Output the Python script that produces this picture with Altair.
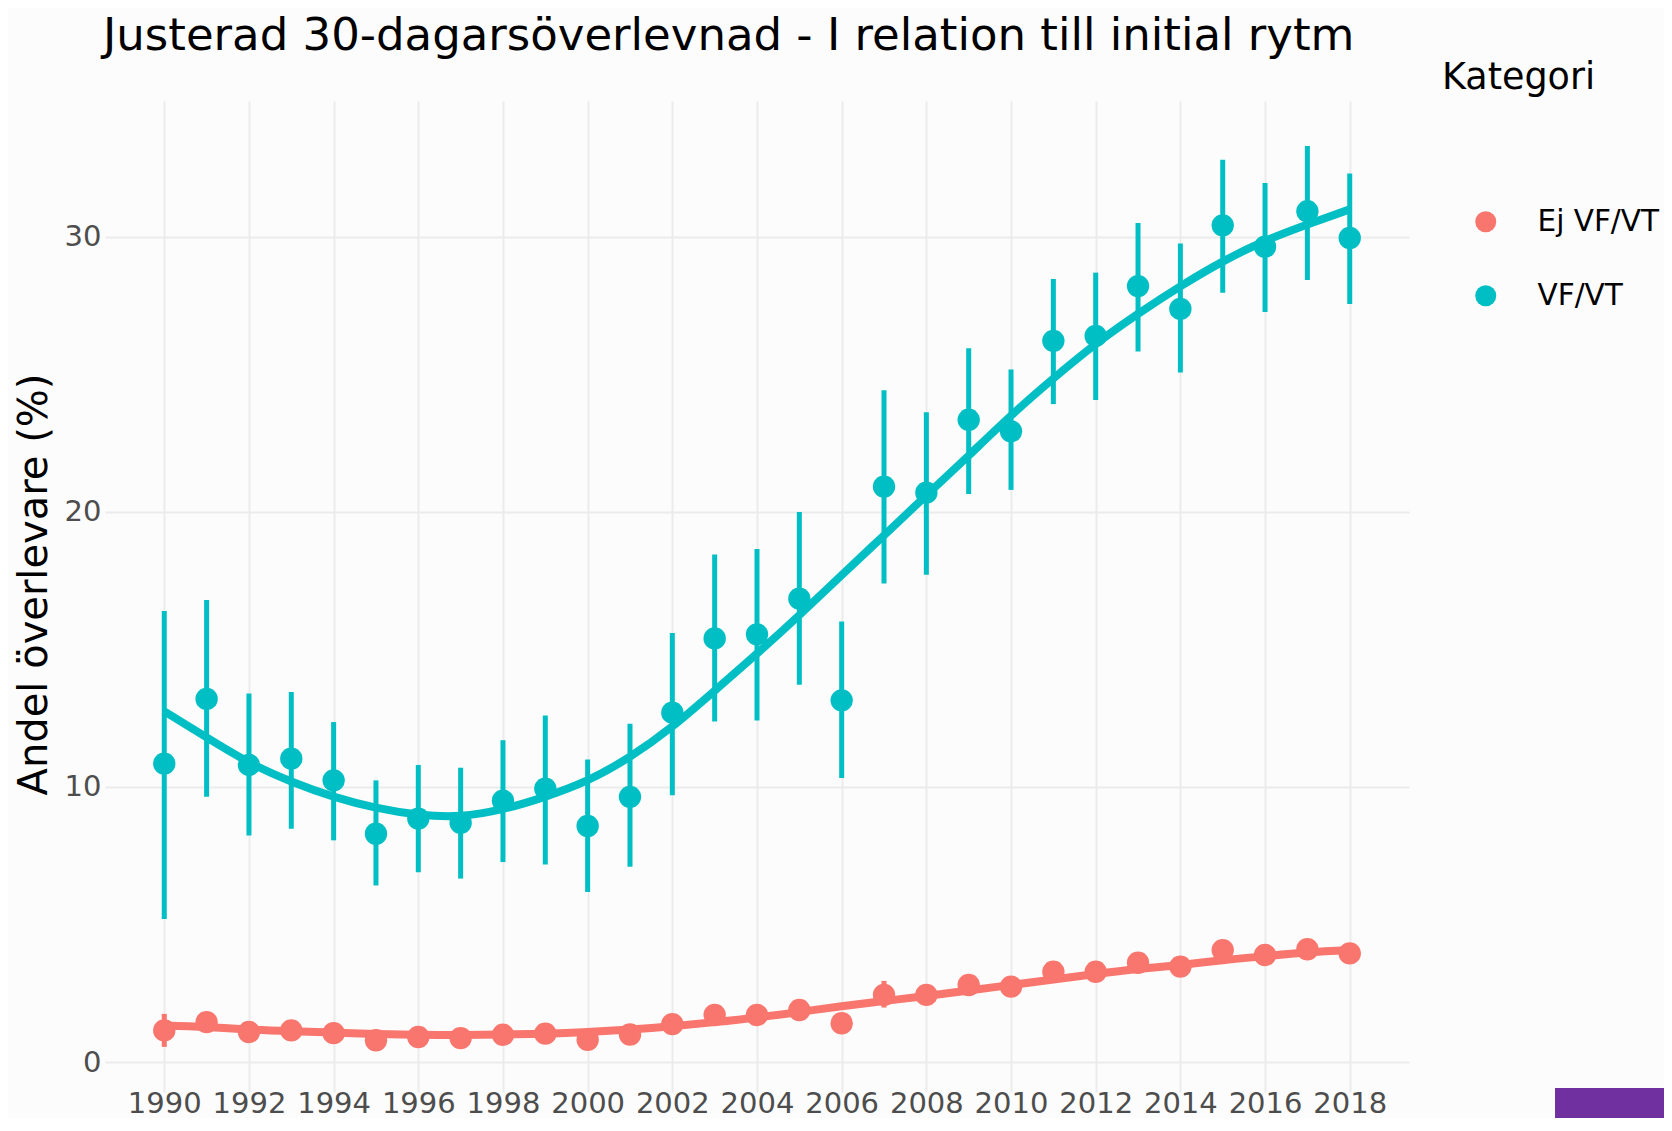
import altair as alt
import pandas as pd

years = list(range(1990, 2019))
categories = ["Ej VF/VT", "VF/VT"]
colors = ["#F8766D", "#00BFC4"]

# VF/VT: estimate, CI low, CI high, smoothed fit
vf_est = [10.85, 13.2, 10.8, 11.03, 10.24, 8.3, 8.85, 8.7, 9.5, 9.94, 8.58, 9.64, 12.7,
          15.4, 15.55, 16.85, 13.15, 20.92, 20.7, 23.35, 22.93, 26.22, 26.4, 28.21,
          27.38, 30.42, 29.64, 30.93, 29.96]
vf_lo = [5.2, 9.64, 8.24, 8.48, 8.06, 6.42, 6.9, 6.67, 7.27, 7.18, 6.18, 7.1, 9.7,
         12.38, 12.42, 13.72, 10.33, 17.4, 17.72, 20.65, 20.8, 23.92, 24.07, 25.83,
         25.07, 27.97, 27.27, 28.43, 27.56]
vf_hi = [16.4, 16.8, 13.4, 13.45, 12.36, 10.24, 10.8, 10.7, 11.7, 12.6, 11.0, 12.3, 15.6,
         18.45, 18.65, 20.0, 16.02, 24.42, 23.62, 25.95, 25.18, 28.47, 28.7, 30.5,
         29.76, 32.8, 31.96, 33.3, 32.3]
vf_fit = [12.75, 11.8, 10.9, 10.2, 9.65, 9.25, 9.0, 8.95, 9.2, 9.65, 10.25, 11.1, 12.2,
          13.5, 14.85, 16.25, 17.7, 19.15, 20.6, 22.05, 23.5, 24.85, 26.1, 27.2,
          28.2, 29.1, 29.85, 30.45, 31.0]

# Ej VF/VT
ej_est = [1.15, 1.45, 1.09, 1.15, 1.05, 0.79, 0.91, 0.87, 0.99, 1.03, 0.81, 1.0, 1.38,
          1.71, 1.71, 1.89, 1.41, 2.44, 2.44, 2.8, 2.74, 3.28, 3.28, 3.61,
          3.47, 4.07, 3.89, 4.1, 3.95]
ej_lo = [0.55, 1.2, 0.85, 0.9, 0.8, 0.55, 0.67, 0.63, 0.75, 0.78, 0.57, 0.76, 1.12,
         1.45, 1.45, 1.62, 1.15, 1.98, 2.16, 2.52, 2.46, 3.0, 3.0, 3.32,
         3.2, 3.78, 3.6, 3.82, 3.67]
ej_hi = [1.75, 1.7, 1.33, 1.4, 1.3, 1.03, 1.15, 1.11, 1.23, 1.28, 1.05, 1.24, 1.64,
         1.97, 1.97, 2.16, 1.67, 2.95, 2.72, 3.08, 3.02, 3.56, 3.56, 3.9,
         3.74, 4.35, 4.18, 4.38, 4.23]
ej_fit = [1.33, 1.27, 1.18, 1.12, 1.07, 1.02, 0.99, 0.98, 1.0, 1.03, 1.09, 1.18, 1.3,
          1.45, 1.62, 1.82, 2.03, 2.22, 2.4, 2.6, 2.8, 3.0, 3.2, 3.38,
          3.53, 3.7, 3.85, 3.98, 4.07]

x_ticks = list(range(1990, 2019, 2))
y_ticks = [0, 10, 20, 30]

FONT = "DejaVu Sans"

pts = pd.DataFrame({
    "year": years * 2,
    "Kategori": [categories[0]] * len(years) + [categories[1]] * len(years),
    "est": ej_est + vf_est,
    "lo": ej_lo + vf_lo,
    "hi": ej_hi + vf_hi,
})
fit = pd.DataFrame({
    "year": years * 2,
    "Kategori": [categories[0]] * len(years) + [categories[1]] * len(years),
    "fit": ej_fit + vf_fit,
})

x_enc = alt.X("year:Q",
              scale=alt.Scale(domain=[1988.6, 2019.4], nice=False, zero=False),
              axis=alt.Axis(values=x_ticks, format="d", title=None, labelFontSize=29,
                            labelFont=FONT, labelColor="#4D4D4D", labelPadding=-3,
                            ticks=False, tickSize=0, domain=False, labelOverlap=False,
                            labelFlush=False, gridColor="#EBEBEB", gridWidth=2))
y_scale = alt.Scale(domain=[-1.09, 34.94], nice=False, zero=False)
y_axis = alt.Axis(values=y_ticks, title="Andel överlevare (%)", titleFontSize=40,
                  titleFont=FONT, titleFontWeight="normal", titleColor="black",
                  titleX=-71, titleY=483, titleBaseline="middle", titleAngle=270,
                  labelFontSize=29, labelFont=FONT, labelColor="#4D4D4D", labelPadding=4,
                  ticks=False, tickSize=0, domain=False, gridColor="#EBEBEB", gridWidth=2)
color_scale = alt.Scale(domain=categories, range=colors)
legend = alt.Legend(title="Kategori", orient="none", legendX=1337, legendY=-41,
                    titleFontSize=36.5, titleFont=FONT, titleFontWeight="normal",
                    titleColor="black", labelFontSize=29.5, labelFont=FONT,
                    labelColor="black", symbolType="circle", symbolSize=440,
                    symbolStrokeWidth=0, symbolOffset=29, labelOffset=37,
                    rowPadding=43, titlePadding=110.5, padding=0)
color_enc = alt.Color("Kategori:N", scale=color_scale, legend=legend)

points = alt.Chart(pts).mark_point(filled=True, size=500, opacity=1).encode(
    x=x_enc,
    y=alt.Y("est:Q", scale=y_scale, axis=y_axis),
    color=color_enc,
)

rules = alt.Chart(pts).mark_rule(strokeWidth=5).encode(
    x=x_enc,
    y=alt.Y("lo:Q", scale=y_scale),
    y2="hi:Q",
    color=color_enc,
)

lines = alt.Chart(fit).mark_line(strokeWidth=8, interpolate="natural").encode(
    x=x_enc,
    y=alt.Y("fit:Q", scale=y_scale),
    color=color_enc,
)

badge = alt.Chart(pd.DataFrame({"b": [1]})).mark_rect(color="#7030A0").encode(
    x=alt.value(1450), x2=alt.value(1600), y=alt.value(987), y2=alt.value(1060)
)

chart = alt.layer(points, rules, lines, badge).properties(
    width=1304,
    height=991,
    autosize=alt.AutoSizeParams(type="none"),
    padding={"left": 97, "top": 93, "right": 255, "bottom": 26},
    background="#FCFCFC",
    title=alt.TitleParams(
        "Justerad 30-dagarsöverlevnad - I relation till initial rytm",
        fontSize=45, font=FONT, fontWeight="normal", color="black",
        anchor="start", frame="group", dx=-2, dy=48, offset=13, baseline="alphabetic",
    ),
).configure_view(stroke=None)

chart.save("out.html", embed_options={"renderer": "svg", "actions": False})
